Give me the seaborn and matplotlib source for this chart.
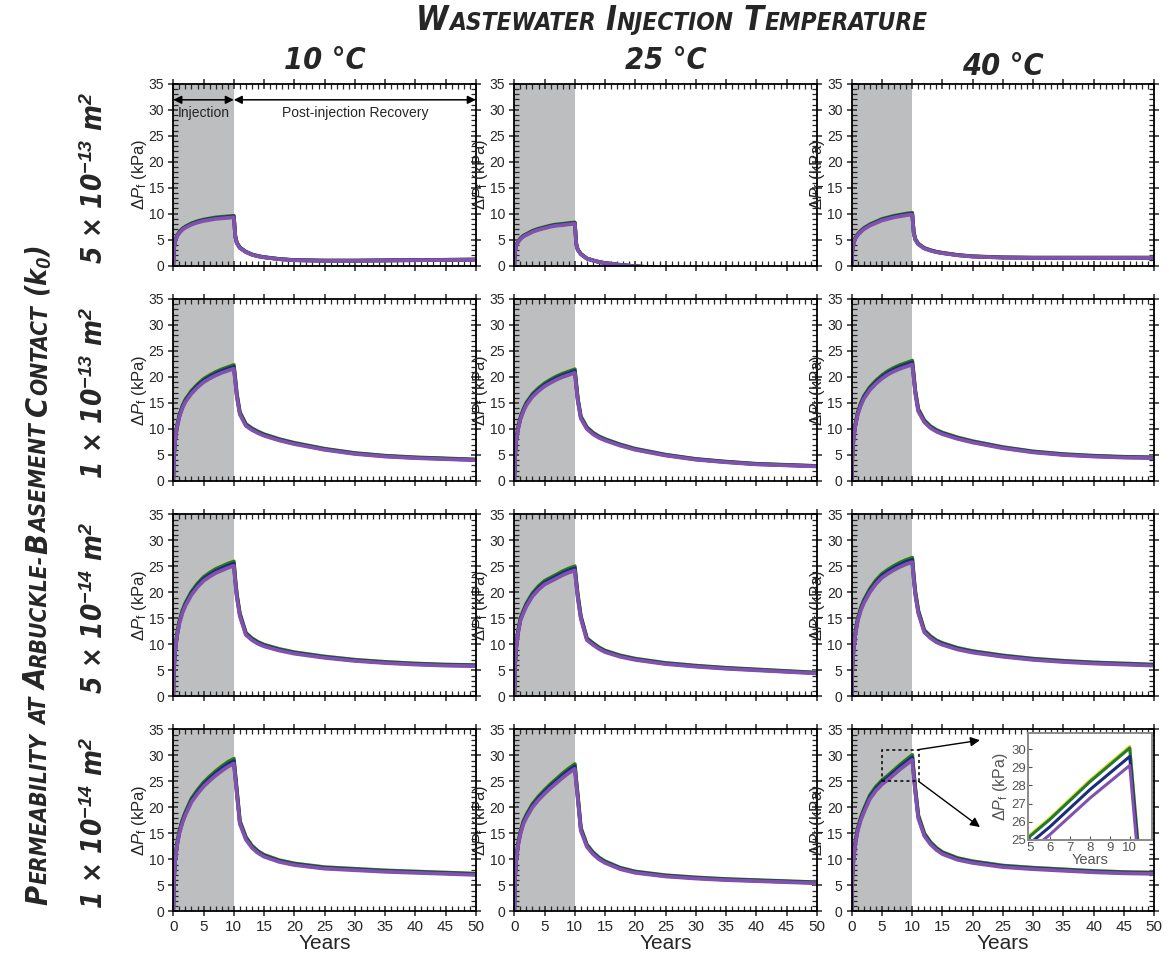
import matplotlib
matplotlib.use("Agg")
import matplotlib.pyplot as plt
import seaborn as sns
import numpy as np
import pandas as pd
from matplotlib import font_manager
from matplotlib.patches import Rectangle
from matplotlib.ticker import MultipleLocator

# time axis (years); injection stops at year 10
years = [0, 0.1, 0.3, 0.6, 1, 1.5, 2, 3, 4, 5, 6, 7, 8, 9, 10,
         10.25, 10.5, 11, 12, 13, 14, 15, 17.5, 20, 25, 30, 35, 40, 45, 50]

# pore pressure change (kPa) of the lowest (purple) curve in each panel
dp_5e13_10C = [0, 3.2, 4.6, 5.6, 6.3, 6.9, 7.3, 7.9, 8.3, 8.6, 8.8, 9.0, 9.1, 9.2, 9.3,
               5.5, 4.3, 3.4, 2.6, 2.1, 1.8, 1.6, 1.25, 1.05, 0.95, 0.95, 1.0, 1.05, 1.1, 1.15]
dp_5e13_25C = [0, 2.5, 3.8, 4.5, 5.1, 5.6, 5.9, 6.5, 6.9, 7.2, 7.5, 7.7, 7.8, 7.95, 8.05,
               4.0, 3.0, 2.2, 1.35, 1.0, 0.7, 0.5, 0.15, -0.1, -0.5, -0.8, -1.0, -1.1, -1.2, -1.3]
dp_5e13_40C = [0, 3.0, 4.3, 5.2, 5.9, 6.5, 7.0, 7.7, 8.2, 8.7, 9.0, 9.3, 9.5, 9.7, 9.85,
               6.3, 5.0, 4.1, 3.3, 2.9, 2.6, 2.4, 2.0, 1.75, 1.55, 1.5, 1.5, 1.5, 1.5, 1.5]

dp_1e13_10C = [0, 4.5, 7.8, 10.2, 12.3, 14.0, 15.2, 16.8, 18.0, 19.0, 19.7, 20.3, 20.8, 21.2, 21.6,
               19.0, 16.2, 12.8, 10.6, 9.8, 9.2, 8.7, 7.8, 7.1, 6.0, 5.2, 4.7, 4.4, 4.2, 4.0]
dp_1e13_25C = [0, 4.3, 7.5, 9.8, 11.8, 13.4, 14.6, 16.2, 17.3, 18.2, 18.9, 19.5, 20.0, 20.4, 20.8,
               18.0, 15.3, 12.0, 10.0, 9.0, 8.3, 7.8, 6.8, 6.0, 4.9, 4.1, 3.6, 3.2, 3.0, 2.8]
dp_1e13_40C = [0, 4.7, 8.1, 10.6, 12.8, 14.5, 15.8, 17.5, 18.7, 19.7, 20.5, 21.1, 21.6, 22.0, 22.4,
               19.8, 16.9, 13.4, 11.3, 10.2, 9.5, 9.0, 8.1, 7.4, 6.3, 5.5, 5.0, 4.7, 4.5, 4.4]

dp_5e14_10C = [0, 5.3, 8.5, 11.5, 14.0, 16.0, 17.4, 19.5, 21.0, 22.2, 23.0, 23.7, 24.2, 24.7, 25.1,
               21.8, 19.0, 15.4, 11.8, 10.8, 10.1, 9.6, 8.8, 8.2, 7.4, 6.8, 6.4, 6.1, 5.9, 5.8]
dp_5e14_25C = [0, 5.5, 9.0, 12.0, 14.5, 16.0, 17.3, 19.2, 20.5, 21.5, 22.1, 22.7, 23.3, 23.8, 24.2,
               21.4, 18.8, 14.9, 10.8, 9.9, 9.1, 8.5, 7.6, 7.0, 6.2, 5.7, 5.3, 5.0, 4.7, 4.4]
dp_5e14_40C = [0, 5.5, 8.8, 11.9, 14.5, 16.5, 17.9, 20.0, 21.6, 22.8, 23.6, 24.3, 24.9, 25.4, 25.8,
               22.5, 19.6, 16.0, 12.3, 11.2, 10.4, 9.9, 9.0, 8.4, 7.6, 7.0, 6.6, 6.3, 6.1, 5.9]

dp_1e14_10C = [0, 6.0, 9.5, 12.5, 15.0, 17.0, 18.5, 21.0, 22.6, 24.0, 25.1, 26.1, 27.0, 27.8, 28.4,
               25.5, 22.6, 16.8, 13.8, 12.2, 11.2, 10.5, 9.5, 8.9, 8.2, 7.9, 7.6, 7.4, 7.2, 7.0]
dp_1e14_25C = [0, 6.0, 9.5, 12.5, 14.8, 16.8, 18.0, 20.0, 21.4, 22.6, 23.7, 24.7, 25.7, 26.6, 27.4,
               24.3, 21.5, 15.5, 12.4, 11.0, 10.0, 9.3, 8.1, 7.4, 6.7, 6.3, 6.0, 5.8, 5.6, 5.4]
dp_1e14_40C = [0, 6.5, 10.0, 13.0, 15.5, 17.5, 19.0, 21.6, 23.2, 24.4, 25.3, 26.3, 27.3, 28.2, 29.1,
               26.0, 23.0, 17.9, 14.5, 12.9, 11.8, 11.0, 9.9, 9.3, 8.5, 8.1, 7.8, 7.5, 7.3, 7.2]

# the four cases, relative to the purple one (at year 10)
series_names = ["yellow", "green", "navy", "purple"]
series_colors = ["#e9d81e", "#1f7a34", "#1d2b7c", "#8152ad"]
series_scale = [1.036, 1.033, 1.017, 1.0]

temp_labels = ["10 °C", "25 °C", "40 °C"]
grid = [[dp_5e13_10C, dp_5e13_25C, dp_5e13_40C],
        [dp_1e13_10C, dp_1e13_25C, dp_1e13_40C],
        [dp_5e14_10C, dp_5e14_25C, dp_5e14_40C],
        [dp_1e14_10C, dp_1e14_25C, dp_1e14_40C]]
perm_labels = [r"5 × 10$^{\mathbf{-13}}$ m$^{\mathbf{2}}$",
               r"1 × 10$^{\mathbf{-13}}$ m$^{\mathbf{2}}$",
               r"5 × 10$^{\mathbf{-14}}$ m$^{\mathbf{2}}$",
               r"1 × 10$^{\mathbf{-14}}$ m$^{\mathbf{2}}$"]

sns.set_style("ticks")
plt.rcParams["font.family"] = ["Liberation Sans", "DejaVu Sans"]
plt.rcParams["mathtext.fontset"] = "custom"
plt.rcParams["mathtext.rm"] = "Liberation Sans"
plt.rcParams["mathtext.it"] = "Liberation Sans:italic"
plt.rcParams["mathtext.bf"] = "Liberation Sans:bold:italic"

# headings: a narrow bold italic face if one is installed
fonts = font_manager.fontManager.ttflist
if any(f.name == "Liberation Sans Narrow" for f in fonts):
    HEAD = dict(family=["Liberation Sans Narrow", "DejaVu Sans"], weight="bold", style="italic")
elif any(f.name == "DejaVu Sans" and f.stretch == "condensed" for f in fonts):
    HEAD = dict(family=["DejaVu Sans"], stretch="condensed", weight="bold", style="italic")
else:
    HEAD = dict(family=["Liberation Sans", "DejaVu Sans"], weight="bold", style="italic")

W, H = 1169, 966
fig = plt.figure(figsize=(W / 100, H / 100), dpi=100)

lefts = [173.3, 514.3, 851.7]
tops = [83.7, 299.0, 514.3, 729.3]
aw, ah = 302.5, 182.0


def make_df(dp):
    rows = []
    for name, s in zip(series_names, series_scale):
        for t, v in zip(years, dp):
            rows.append((name, t, v * s))
    return pd.DataFrame(rows, columns=["case", "Years", "dP"])


def style_axes(ax):
    ax.xaxis.set_major_locator(MultipleLocator(5))
    ax.xaxis.set_minor_locator(MultipleLocator(1))
    ax.yaxis.set_major_locator(MultipleLocator(5))
    ax.yaxis.set_minor_locator(MultipleLocator(1))
    ax.tick_params(which="major", direction="inout", length=7, width=1.1,
                   top=True, right=True, labelsize=10, pad=3)
    ax.tick_params(which="minor", direction="in", length=3.5, width=0.9,
                   top=True, right=True)
    for sp in ax.spines.values():
        sp.set_linewidth(1.3)
        sp.set_color("black")


axes = []
for i in range(4):
    row = []
    for j in range(3):
        ax = fig.add_axes([lefts[j] / W, 1 - (tops[i] + ah) / H, aw / W, ah / H])
        ax.axvspan(0, 10, color="#bcbec0", lw=0, zorder=0)
        sns.lineplot(data=make_df(grid[i][j]), x="Years", y="dP", hue="case",
                     hue_order=series_names, palette=series_colors, lw=2.7,
                     legend=False, errorbar=None, ax=ax)
        ax.set_xlim(0, 50)
        ax.set_ylim(0, 35)
        style_axes(ax)
        ax.set_ylabel(r"$\Delta\mathit{P}_{\mathrm{f}}$ (kPa)", fontsize=12, labelpad=0)
        if i == 3:
            ax.set_xlabel("Years", fontsize=15, labelpad=0)
            ax.tick_params(axis="x", labelsize=11)
        else:
            ax.set_xlabel("")
            ax.tick_params(labelbottom=False)
        row.append(ax)
    axes.append(row)

# injection / recovery annotations
a0 = axes[0][0]
arrow = dict(arrowstyle="<|-|>", color="black", lw=1.1, mutation_scale=12, shrinkA=0, shrinkB=0)
a0.annotate("", xy=(0, 31.9), xytext=(10, 31.9), arrowprops=arrow)
a0.annotate("", xy=(10, 31.9), xytext=(50, 31.9), arrowprops=arrow)
a0.text(5, 29.4, "Injection", ha="center", va="center", fontsize=10)
a0.text(30, 29.4, "Post-injection Recovery", ha="center", va="center", fontsize=10)

# zoom box and inset in the last panel
a43 = axes[3][2]
a43.add_patch(Rectangle((5, 25), 6.05, 6.1, fill=False, ls=(0, (2, 2)), lw=1.1, ec="black", zorder=5))
pointer = dict(arrowstyle="-|>", color="black", lw=1.0, mutation_scale=14, shrinkA=0, shrinkB=0)
a43.annotate("", xy=(21.2, 32.9), xytext=(11.05, 31.1), arrowprops=pointer, annotation_clip=False)
a43.annotate("", xy=(21.2, 16.2), xytext=(11.05, 25.0), arrowprops=pointer)

ins = fig.add_axes([1028 / W, 1 - 840 / H, 123.7 / W, 107.3 / H])
sns.lineplot(data=make_df(dp_1e14_40C), x="Years", y="dP", hue="case",
             hue_order=series_names, palette=series_colors, lw=2.2,
             legend=False, errorbar=None, ax=ins)
ins.set_xlim(4.9, 11.1)
ins.set_ylim(25, 30.9)
ins.set_xticks([5, 6, 7, 8, 9, 10])
ins.yaxis.set_major_locator(MultipleLocator(1))
ins.tick_params(direction="in", length=3, width=0.8, colors="#555555", labelsize=9.5, pad=1.5,
                labelcolor="#555555")
for sp in ins.spines.values():
    sp.set_color("#8a8a8a")
    sp.set_linewidth(1.4)
ins.set_xlabel("Years", fontsize=10.5, color="#555555", labelpad=-1)
ins.set_ylabel(r"$\Delta\mathit{P}_{\mathrm{f}}$ (kPa)", fontsize=11.5, color="#555555", labelpad=1)


def caps(x, y, runs, length, rotation=0):
    # lay out (text, size) runs one after another, centred at pixel (x, y),
    # with sizes scaled so the whole heading spans `length` pixels
    r = fig.canvas.get_renderer()

    def measure(k):
        out = []
        for s, size in runs:
            if s == " ":
                out.append((None, 0.27 * size * k * 100 / 72))
                continue
            t = fig.text(0, 0, s, fontsize=size * k, ha="left", va="baseline", **HEAD)
            out.append((t, t.get_window_extent(r).width + 0.6))
        return out

    pieces = measure(1.0)
    k = length / sum(w for _, w in pieces)
    for t, _ in pieces:
        if t is not None:
            t.remove()
    pieces = measure(k)
    pos = -sum(w for _, w in pieces) / 2
    for t, w in pieces:
        if t is not None:
            if rotation:
                t.set_position((x / W, (y + pos) / H))
                t.set_rotation(90)
                t.set_rotation_mode("anchor")
            else:
                t.set_position(((x + pos) / W, y / H))
        pos += w


B, S = 25, 18.5
caps(672, H - 30, [("W", B), ("ASTEWATER", S), (" ", B), ("I", B), ("NJECTION", S),
                   (" ", B), ("T", B), ("EMPERATURE", S)], length=513)
caps(47, H - 575, [("P", B + 2), ("ERMEABILITY", S + 1.5), (" ", B), ("AT", S + 1.5), (" ", B),
                   ("A", B + 2), ("RBUCKLE-", S + 1.5), ("B", B + 2), ("ASEMENT", S + 1.5), (" ", B),
                   ("C", B + 2), ("ONTACT", S + 1.5), (" ", B), (r"(k$_{\mathbf{0}}$)", B)],
     length=660, rotation=90)

col_y = [H - 69, H - 69, H - 75]
for j, lab in enumerate(temp_labels):
    fig.text((lefts[j] + aw / 2) / W, col_y[j] / H, lab, fontsize=22, ha="center",
             va="baseline", **HEAD)

for i, lab in enumerate(perm_labels):
    fig.text(109 / W, 1 - (tops[i] + ah / 2 + 3) / H, lab, fontsize=20, rotation=90,
             ha="right", va="center", **HEAD)

fig.savefig("out.png", dpi=100)
